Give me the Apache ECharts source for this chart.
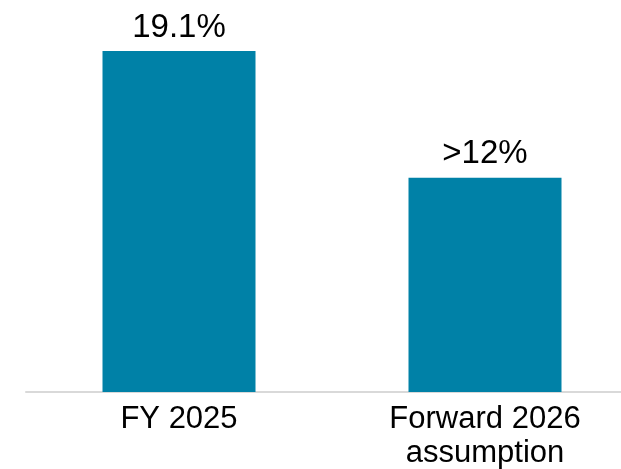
<!DOCTYPE html>
<html>
<head>
<meta charset="utf-8">
<script src="https://cdn.jsdelivr.net/npm/echarts@6/dist/echarts.min.js"></script>
<style>
  html, body { margin: 0; padding: 0; background: #fff; }
  #chart { width: 621px; height: 469px; }
</style>
</head>
<body>
<div id="chart"></div>
<script>
// 数据
var categories = ['FY 2025', 'Forward 2026\nassumption'];
var values = [19.1, 12];
var valueLabels = ['19.1%', '>12%'];

function getBarChart() {
  var chart = echarts.init(document.getElementById('chart'));
  var option = {
    animation: false,
    grid: {
      left: 26,
      width: 612,
      top: 35,
      bottom: 77,
      outerBoundsMode: 'none'
    },
    xAxis: {
      type: 'category',
      data: categories,
      axisTick: { show: false },
      axisLine: {
        show: true,
        lineStyle: { color: '#d9d9d9', width: 2 }
      },
      axisLabel: {
        color: '#000',
        fontFamily: 'Liberation Sans, Arial, sans-serif',
        fontSize: 31,
        lineHeight: 34,
        margin: 10
      }
    },
    yAxis: {
      type: 'value',
      min: 0,
      max: 20,
      show: false
    },
    series: [{
      type: 'bar',
      data: values,
      barWidth: '50%',
      itemStyle: { color: '#0081A7' },
      label: {
        show: true,
        position: 'top',
        distance: 7,
        color: '#000',
        fontFamily: 'Liberation Sans, Arial, sans-serif',
        fontSize: 33,
        formatter: function (p) { return valueLabels[p.dataIndex]; }
      }
    }]
  };
  chart.setOption(option);
}

getBarChart();
</script>
</body>
</html>
